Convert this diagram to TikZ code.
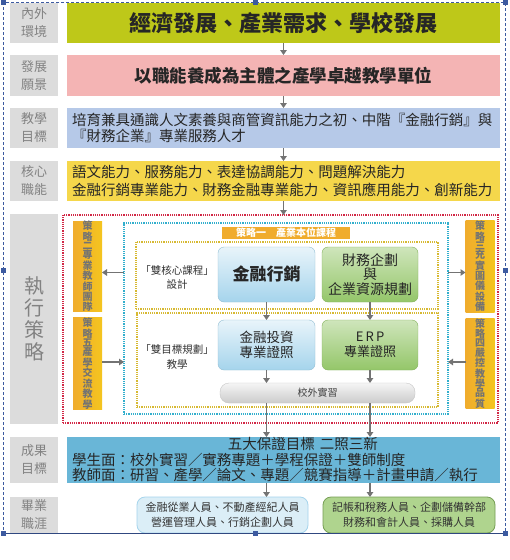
\documentclass[tikz,border=0pt]{standalone}
\usepackage{fontspec}
\setmainfont{Noto Sans CJK TC}
\usetikzlibrary{arrows.meta, positioning, calc}
\usepackage{xcolor}
\definecolor{verdelima}{RGB}{190, 200, 25}
\definecolor{rosa}{RGB}{244, 180, 180}
\definecolor{azulmeta}{RGB}{182, 201, 232}
\definecolor{amarelo}{RGB}{245, 215, 75}
\definecolor{azulres}{RGB}{105, 182, 215}
\definecolor{laranja}{RGB}{240, 172, 45}
\definecolor{cinzaclaro}{RGB}{220, 220, 220}
\definecolor{cinzatexto}{RGB}{130, 130, 130}
\definecolor{vermelhodot}{RGB}{210, 40, 70}
\definecolor{ciano}{RGB}{50, 175, 205}
\definecolor{ouro}{RGB}{215, 185, 50}
\definecolor{setacinza}{RGB}{115, 115, 115}
\definecolor{azulbox}{RGB}{165, 212, 236}
\definecolor{verdebox}{RGB}{148, 198, 105}
\definecolor{moldura}{RGB}{60, 90, 160}

\begin{document}
\begin{tikzpicture}[
                x=1pt, y=-1pt,
                every node/.style={inner sep=0pt, outer sep=0pt},
                rowlabel/.style={fill=cinzaclaro, text=cinzatexto, font=\fontsize{13}{18}\selectfont, align=center, minimum width=48pt},
                rowbox/.style={minimum width=433pt, text=black!85},
                tabbox/.style={left color=laranja, right color=laranja!70!yellow, text=black!55, font=\bfseries\fontsize{10}{9.2}\selectfont, align=center, minimum width=29pt, minimum height=83pt},
                bluebox/.style={rounded corners=6pt, top color=azulbox!25, bottom color=azulbox, draw=azulbox!90!black, align=center, text=black!85},
                greenbox/.style={rounded corners=6pt, top color=verdebox!45, bottom color=verdebox, draw=verdebox!90!black, align=center, text=black!85},
                dotbox/.style={draw, densely dotted, line width=1.2pt},
                arrow/.style={-{Triangle[length=5pt, width=6.5pt]}, line width=1.8pt, color=setacinza}
            ]
                \useasboundingbox (0,0) rectangle (510,560);
                \fill[white] (0,0) rectangle (510,560);

                % Rótulos à esquerda
                \node[rowlabel, minimum height=40pt] (l1) at (34,23) {內外\\環境};
                \node[rowlabel, minimum height=41pt] (l2) at (34,75.5) {發展\\願景};
                \node[rowlabel, minimum height=40pt] (l3) at (34,128) {教學\\目標};
                \node[rowlabel, minimum height=40pt] (l4) at (34,181) {核心\\職能};
                \node[rowlabel, minimum height=210pt, font=\fontsize{20}{22}\selectfont] (l5) at (34,319) {執\\行\\策\\略};
                \node[rowlabel, minimum height=46pt] (l6) at (34,460) {成果\\目標};
                \node[rowlabel, minimum height=36pt] (l7) at (34,515) {畢業\\職涯};

                % Faixas principais
                \node[rowbox, fill=verdelima, minimum height=40pt, font=\bfseries\fontsize{22}{24}\selectfont] (r1) at (283.5,23) {經濟發展、產業需求、學校發展};
                \node[rowbox, fill=rosa, minimum height=41pt, font=\bfseries\fontsize{17.5}{20}\selectfont] (r2) at (283.5,75.5) {以職能養成為主體之產學卓越教學單位};
                \node[rowbox, fill=azulmeta, minimum height=40pt, text width=423pt, align=left, font=\fontsize{14.5}{16}\selectfont] (r3) at (283.5,128) {培育兼具通識人文素養與商管資訊能力之初、中階『金融行銷』與\\『財務企業』專業服務人才};
                \node[rowbox, fill=amarelo, minimum height=40pt, text width=423pt, align=left, font=\fontsize{14.5}{18}\selectfont] (r4) at (283.5,181) {語文能力、服務能力、表達協調能力、問題解決能力\\金融行銷專業能力、財務金融專業能力、資訊應用能力、創新能力};

                % Estratégias
                \node[dotbox, draw=vermelhodot, minimum width=435pt, minimum height=208pt] (exec) at (280.5,319) {};
                \node[dotbox, draw=ciano, minimum width=324pt, minimum height=191pt] (ciclo) at (286,318.5) {};
                \node[dotbox, draw=ouro, minimum width=302pt, minimum height=67pt] (nucleo) at (287,275.5) {};
                \node[dotbox, draw=ouro, minimum width=301pt, minimum height=94pt] (meta) at (287.5,360) {};
                \node[fill=laranja, text=white, minimum width=128pt, minimum height=12pt, font=\bfseries\fontsize{10}{11}\selectfont] (est1) at (286,233) {策略一\quad 產業本位課程};

                \node[tabbox] (est2) at (87.5,266.5) {策\\略\\二\\專\\業\\教\\師\\團\\隊};
                \node[tabbox] (est5) at (87.5,363.5) {策\\略\\五\\產\\學\\交\\流\\教\\學};
                \node[tabbox] (est3) at (480,266.5) {策\\略\\三\\充\\實\\圖\\儀\\設\\備};
                \node[tabbox] (est4) at (480,363.5) {策\\略\\四\\嚴\\控\\教\\學\\品\\質};

                \node[align=center, text=black!80, font=\fontsize{10.5}{14}\selectfont] (duplo1) at (177,277) {「雙核心課程」\\設計};
                \node[align=center, text=black!80, font=\fontsize{10.5}{15}\selectfont] (duplo2) at (177,357) {「雙目標規劃」\\教學};

                \node[bluebox, minimum width=97pt, minimum height=55pt, font=\bfseries\fontsize{17}{19}\selectfont] (fin) at (266.5,274.5) {金融行銷};
                \node[greenbox, minimum width=96pt, minimum height=55pt, font=\fontsize{14}{14.5}\selectfont] (erp) at (370,274.5) {財務企劃\\與\\企業資源規劃};
                \node[bluebox, minimum width=97pt, minimum height=50pt, font=\fontsize{13.5}{15}\selectfont] (finc) at (266.5,345) {金融投資\\專業證照};
                \node[greenbox, minimum width=96pt, minimum height=50pt, font=\fontsize{13}{15.5}\selectfont] (erpc) at (370,345) {E\,R\,P\\專業證照};
                \node[rounded corners=9pt, top color=gray!8, bottom color=gray!40, draw=gray!45, minimum width=195pt, minimum height=20pt, text=black!75, font=\fontsize{10}{11}\selectfont] (estagio) at (317.5,393) {校外實習};

                % Resultados
                \node[rowbox, fill=azulres, minimum height=46pt, text width=423pt, align=left, font=\fontsize{14.5}{15.5}\selectfont] (r6) at (283.5,460) {\hspace*{156pt}五大保證目標 二照三新\\學生面：校外實習／實務專題＋學程保證＋雙師制度\\教師面：研習、產學／論文、專題／競賽指導＋計畫申請／執行};

                % Carreiras
                \node[rounded corners=8pt, fill=azulbox!40, draw=azulbox, line width=0.8pt, minimum width=171pt, minimum height=36pt, align=center, text=black!80, font=\fontsize{11}{15}\selectfont] (car1) at (222.5,515) {金融從業人員、不動產經紀人員\\營運管理人員、行銷企劃人員};
                \node[rounded corners=8pt, fill=verdebox!75, draw=verdebox!80!black, line width=0.8pt, minimum width=172pt, minimum height=36pt, align=center, text=black!80, font=\fontsize{11}{15}\selectfont] (car2) at (409,515) {記帳和稅務人員、企劃儲備幹部\\財務和會計人員、採購人員};

                % Conexões
                \draw[arrow] (r1) -- (r2);
                \draw[arrow] (r2) -- (r3);
                \draw[arrow] (r3) -- (r4);
                \draw[arrow] (r4.south) -- (r4.south |- exec.north);
                \draw[arrow] (fin) -- (finc);
                \draw[arrow] (erp) -- (erpc);
                \draw[arrow] (finc.south) -- (finc.south |- estagio.north);
                \draw[arrow] (erpc.south) -- (erpc.south |- estagio.north);
                \draw[arrow] (estagio.south -| finc) -- (r6.north -| finc);
                \draw[arrow] (estagio.south -| erpc) -- (r6.north -| erpc);
                \draw[arrow] (r6.south -| finc) -- (car1.north -| finc);
                \draw[arrow] (r6.south -| erpc) -- (car2.north -| erpc);
                \draw[arrow] ([yshift=-6pt]est2.east -| ciclo.west) -- ([yshift=-6pt]est2.east);
                \draw[arrow] ([yshift=1.5pt]est5.east) -- ([yshift=1.5pt]est5.east -| ciclo.west);
                \draw[arrow] ([yshift=-6pt]est3.west -| ciclo.east) -- ([yshift=-6pt]est3.west);
                \draw[arrow] ([yshift=1.5pt]est4.west) -- ([yshift=1.5pt]est4.west -| ciclo.east);

                % Moldura de seleção
                \draw[moldura, densely dashed, line width=0.6pt] (3,2) rectangle (505,533);
                \draw[moldura!80!black, line width=1pt] (3,533) -- (505,533);
                \foreach \hx/\hy in {3/2, 255/2, 505/2, 3/270, 505/270, 3/533, 255/533, 505/533}
                    \fill[moldura] (\hx-2.5,\hy-2.5) rectangle (\hx+2.5,\hy+2.5);
            \end{tikzpicture}
\end{document}
